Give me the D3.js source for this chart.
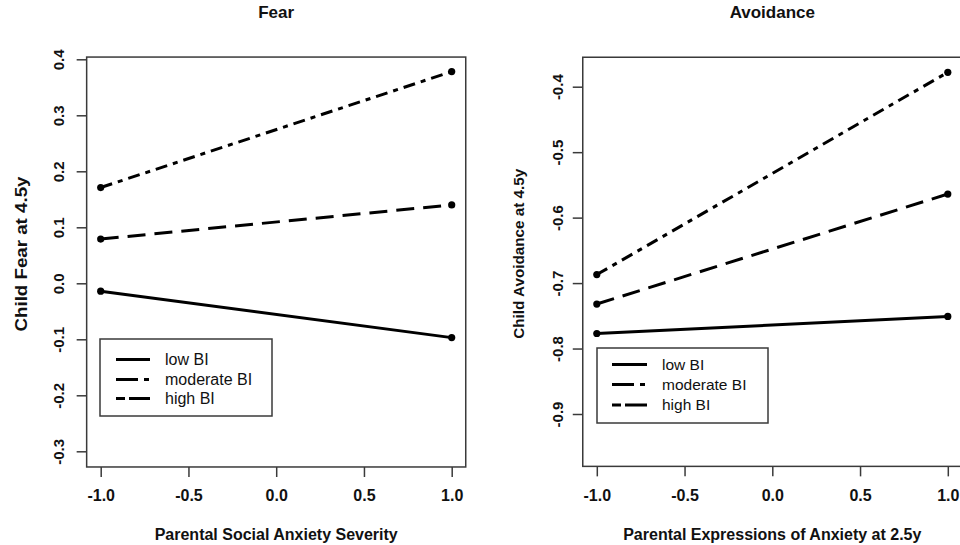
<!DOCTYPE html>
<html>
<head>
<meta charset="utf-8">
<script src="https://cdn.jsdelivr.net/npm/d3@7"></script>
<style>
  html, body { margin: 0; padding: 0; background: #fff; }
  svg { display: block; font-family: "Liberation Sans", Arial, Helvetica, sans-serif; }
</style>
</head>
<body>
<svg id="chart" width="960" height="545"></svg>
<script>
// ---- data ----
const xValues = [-1, 1];
const seriesNames = ["low BI", "moderate BI", "high BI"];
const fearLow = [-0.014, -0.097];
const fearModerate = [0.171, 0.378];
const fearHigh = [0.079, 0.140];
const avoidLow = [-0.777, -0.751];
const avoidModerate = [-0.687, -0.378];
const avoidHigh = [-0.732, -0.564];
const xTicks = [-1, -0.5, 0, 0.5, 1];
const fearTicks = [-0.3, -0.2, -0.1, 0.0, 0.1, 0.2, 0.3, 0.4];
const avoidTicks = [-0.9, -0.8, -0.7, -0.6, -0.5, -0.4];

// ---- styling / layout ----
const dashes = { "low BI": null, "moderate BI": "12,6,5,6", "high BI": "18,9" };
const legendDashes = { "low BI": null, "moderate BI": "22,6,5,40", "high BI": "9,4,22,40" };
const fmt = d => d.toFixed(1);
const svg = d3.select("#chart");
svg.append("rect").attr("width", 960).attr("height", 545).attr("fill", "#fff");

const panels = [
  {
    title: "Fear", xTitle: "Parental Social Anxiety Severity", yTitle: "Child Fear at 4.5y",
    series: [fearLow, fearModerate, fearHigh], yTicks: fearTicks,
    xRange: [100.7, 451.7], yDomain: [-0.3, 0.4], yRange: [451.3, 59.3],
    boxY: [-0.328, 0.404], yLabelOff: -23, yTitleX: 27, yTitleLen: 155, yTitleFs: 16.5,
    legend: { x: 100, y: 339, w: 172, h: 77, lineX: [116, 150], textX: 165, rows: [359.5, 379.5, 398.5], fs: 16 }
  },
  {
    title: "Avoidance", xTitle: "Parental Expressions of Anxiety at 2.5y", yTitle: "Child Avoidance at 4.5y",
    series: [avoidLow, avoidModerate, avoidHigh], yTicks: avoidTicks,
    xRange: [596.8, 947.8], yDomain: [-0.9, -0.4], yRange: [414, 86.7],
    boxY: [-0.98, -0.355], yLabelOff: -20, yTitleX: 524, yTitleLen: 170, yTitleFs: 15.5,
    legend: { x: 597, y: 348, w: 171, h: 75, lineX: [612, 647], textX: 662, rows: [364.5, 384.5, 405], fs: 15.5 }
  }
];

panels.forEach(p => {
  const x = d3.scaleLinear().domain([-1, 1]).range(p.xRange);
  const y = d3.scaleLinear().domain(p.yDomain).range(p.yRange);
  const bx0 = x(-1.08), bx1 = x(1.08);
  const by0 = y(p.boxY[1]), by1 = y(p.boxY[0]);
  const g = svg.append("g");

  // box
  g.append("rect").attr("x", bx0).attr("y", by0).attr("width", bx1 - bx0).attr("height", by1 - by0)
    .attr("fill", "none").attr("stroke", "#3a3a3a").attr("stroke-width", 1.5);

  // x axis
  const xa = g.append("g").attr("transform", `translate(0,${by1})`)
    .call(d3.axisBottom(x).tickValues(xTicks).tickSize(10).tickFormat(fmt));
  xa.select(".domain").remove();
  xa.selectAll(".tick line").attr("stroke", "#3a3a3a").attr("stroke-width", 1.5);
  xa.selectAll(".tick text").attr("y", 34.5).attr("dy", 0)
    .attr("font-size", 16).attr("font-weight", "bold").attr("fill", "#111")
    .attr("font-family", "Liberation Sans, Arial, sans-serif");

  // y axis
  const ya = g.append("g").attr("transform", `translate(${bx0},0)`)
    .call(d3.axisLeft(y).tickValues(p.yTicks).tickSize(10).tickFormat(fmt));
  ya.select(".domain").remove();
  ya.selectAll(".tick line").attr("stroke", "#3a3a3a").attr("stroke-width", 1.5);
  ya.selectAll(".tick text").attr("x", 0).attr("dy", 0)
    .attr("text-anchor", "middle")
    .attr("transform", `translate(${p.yLabelOff},0) rotate(-90)`)
    .attr("font-size", 15).attr("font-weight", "bold").attr("fill", "#111")
    .attr("font-family", "Liberation Sans, Arial, sans-serif");

  // titles
  const mid = (p.xRange[0] + p.xRange[1]) / 2;
  g.append("text").attr("x", mid).attr("y", 18).attr("text-anchor", "middle")
    .attr("font-size", 17).attr("font-weight", "bold").attr("fill", "#111").text(p.title);
  g.append("text").attr("x", mid).attr("y", 540).attr("text-anchor", "middle")
    .attr("font-size", 16).attr("font-weight", "bold").attr("fill", "#111").text(p.xTitle);
  const yc = (by0 + by1) / 2 - 8;
  g.append("text").attr("transform", `translate(${p.yTitleX},${yc}) rotate(-90)`)
    .attr("text-anchor", "middle").attr("font-size", p.yTitleFs).attr("font-weight", "bold").attr("fill", "#111")
    .attr("textLength", p.yTitleLen).attr("lengthAdjust", "spacingAndGlyphs")
    .text(p.yTitle);

  // lines + points
  const line = d3.line().x((d, i) => x(xValues[i])).y(d => y(d));
  p.series.forEach((vals, si) => {
    const name = seriesNames[si];
    g.append("path").datum(vals).attr("d", line)
      .attr("fill", "none").attr("stroke", "#000").attr("stroke-width", 3)
      .attr("stroke-dasharray", dashes[name]);
    g.selectAll(null).data(vals).enter().append("circle")
      .attr("cx", (d, i) => x(xValues[i])).attr("cy", d => y(d)).attr("r", 3.6).attr("fill", "#000");
  });

  // legend
  const L = p.legend;
  const lg = g.append("g");
  lg.append("rect").attr("x", L.x).attr("y", L.y).attr("width", L.w).attr("height", L.h)
    .attr("fill", "#fff").attr("stroke", "#3a3a3a").attr("stroke-width", 1.5);
  seriesNames.forEach((name, i) => {
    lg.append("line").attr("x1", L.lineX[0]).attr("x2", L.lineX[1]).attr("y1", L.rows[i]).attr("y2", L.rows[i])
      .attr("stroke", "#000").attr("stroke-width", 3).attr("stroke-dasharray", legendDashes[name]);
    lg.append("text").attr("x", L.textX).attr("y", L.rows[i]).attr("dy", "0.35em")
      .attr("font-size", L.fs).attr("fill", "#111").text(name);
  });
});
</script>
</body>
</html>
